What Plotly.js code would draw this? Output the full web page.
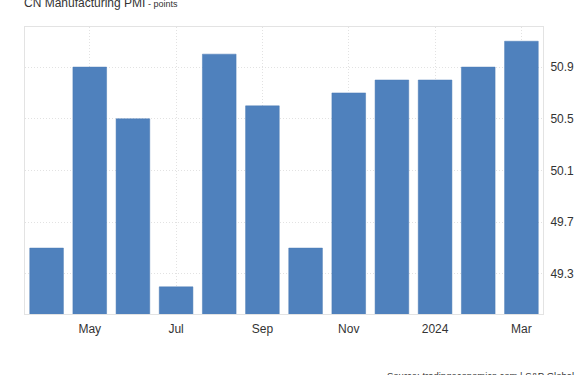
<!DOCTYPE html>
<html>
<head>
<meta charset="utf-8">
<script src="https://cdn.plot.ly/plotly-3.0.1.min.js"></script>
<style>html,body{margin:0;padding:0;background:#fff;}#chart{width:585px;height:375px;}</style>
</head>
<body>
<div id="chart"></div>
<script>
const months = ['2023-04','2023-05','2023-06','2023-07','2023-08','2023-09','2023-10','2023-11','2023-12','2024-01','2024-02','2024-03'];
const pmi = [49.5, 50.9, 50.5, 49.2, 51.0, 50.6, 49.5, 50.7, 50.8, 50.8, 50.9, 51.1];
const xTickVals = ['2023-05','2023-07','2023-09','2023-11','2024-01','2024-03'];
const xTickText = ['May','Jul','Sep','Nov','2024','Mar'];
const yTickVals = [49.3, 49.7, 50.1, 50.5, 50.9];

const trace = {
  type: 'bar',
  x: months,
  y: pmi,
  marker: {color: '#4f81bd', line: {color: '#4a7ab5', width: 0.5}},
  hoverinfo: 'x+y'
};

const layout = {
  width: 585, height: 375,
  margin: {l: 25, r: 42, t: 27, b: 61},
  paper_bgcolor: '#ffffff', plot_bgcolor: '#ffffff',
  bargap: 0.22,
  showlegend: false,
  font: {family: 'Liberation Sans, Arial, sans-serif', color: '#333333', size: 12},
  title: {
    text: 'CN Manufacturing PMI<span style="font-size:9px"> - points</span>',
    x: 24/585, xanchor: 'left', xref: 'container',
    y: 1 - 3/375, yanchor: 'middle', yref: 'container',
    font: {size: 12, color: '#333333', family: 'Liberation Sans, Arial, sans-serif'}
  },
  xaxis: {
    type: 'category',
    tickmode: 'array', tickvals: xTickVals, ticktext: xTickText,
    showgrid: true, gridcolor: '#e2e2e2', griddash: '1px,2px', gridwidth: 1,
    showline: true, linecolor: '#e3e3e3', linewidth: 1, mirror: true,
    ticks: '', ticklabelstandoff: 4,
    tickfont: {size: 12, color: '#333333'},
    zeroline: false
  },
  yaxis: {
    side: 'right',
    range: [48.99, 51.21],
    tickmode: 'array', tickvals: yTickVals, ticktext: yTickVals.map(v => v.toFixed(1)),
    showgrid: true, gridcolor: '#e2e2e2', griddash: '1px,2px', gridwidth: 1,
    showline: true, linecolor: '#e3e3e3', linewidth: 1, mirror: true,
    ticks: '', ticklabelstandoff: 4,
    tickfont: {size: 12, color: '#333333'},
    zeroline: false
  },
  annotations: [{
    text: 'Source: tradingeconomics.com | S&P Global',
    xref: 'paper', yref: 'paper',
    x: (576-25)/518, xanchor: 'right',
    y: -(368-314)/287, yanchor: 'top',
    showarrow: false,
    font: {size: 9.5, color: '#333333'}
  }]
};

Plotly.newPlot('chart', [trace], layout, {displayModeBar: false, staticPlot: true});
</script>
</body>
</html>
